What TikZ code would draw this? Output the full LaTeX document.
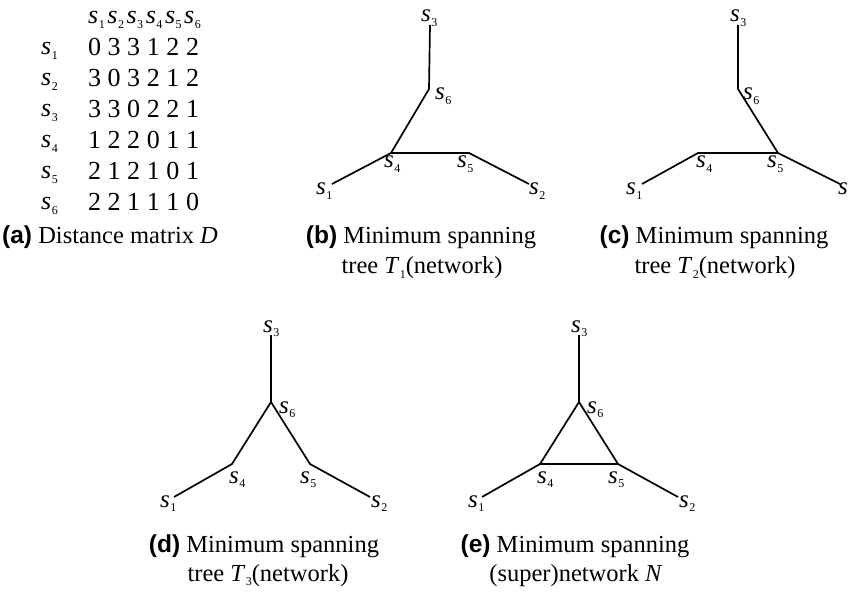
\documentclass[tikz,border=0pt]{standalone}
\usepackage{fontspec}
\setmainfont{Liberation Serif}
\newfontfamily\labfont{Liberation Sans}
\newcommand{\sv}[1]{\textit{s}\kern0.5pt\raisebox{-4.5pt}{\fontsize{12}{12}\selectfont #1}}
\newcommand{\tsub}[1]{\kern0.3pt\raisebox{-4.5pt}{\fontsize{12}{12}\selectfont #1}}
\newcommand{\plab}[1]{{\labfont\bfseries (#1)}}
\begin{document}
\begin{tikzpicture}[x=1pt,y=-1pt,
  edge/.style={line width=1.7pt, line join=round},
  lab/.style={inner sep=0pt, anchor=base west, font=\fontsize{25}{25}\selectfont},
  capt/.style={inner sep=0pt, anchor=base, font=\fontsize{24.5}{30}\selectfont},
  mat/.style={inner sep=0pt, anchor=base, font=\fontsize{26}{26}\selectfont},
  math/.style={inner sep=0pt, anchor=base west, font=\fontsize{26}{26}\selectfont}]
\useasboundingbox (0,0) rectangle (848,593);

% ---------- (a) distance matrix ----------
\foreach \k in {1,...,6} {
  \node[math] (h\k) at ({88+19.2*(\k-1)}, 24) {\sv{\k}};
  \node[math] (r\k) at (41, {55+31*(\k-1)}) {\sv{\k}};
}
\foreach \r/\va/\vb/\vc/\vd/\ve/\vf in {1/0/3/3/1/2/2, 2/3/0/3/2/1/2, 3/3/3/0/2/2/1,
    4/1/2/2/0/1/1, 5/2/1/2/1/0/1, 6/2/2/1/1/1/0} {
  \foreach \v [count=\c] in {\va,\vb,\vc,\vd,\ve,\vf} {
    \node[mat] (m\r\c) at ({94.5+19.6*(\c-1)}, {56+31*(\r-1)}) {\v};
  }
}
\node[capt, anchor=base west] (capa) at (2,244) {\plab{a} Distance matrix \textit{D}};

% ---------- (b) ----------
\coordinate (b3) at (430,25);
\coordinate (b6) at (429,89);
\coordinate (b4) at (391,153);
\coordinate (b5) at (469,153);
\coordinate (b1) at (332,184);
\coordinate (b2) at (529,184);
\draw[edge] (b3) -- (b6) -- (b4) -- (b1);
\draw[edge] (b4) -- (b5) -- (b2);
\node[lab] (lb3) at (421,22) {\sv{3}};
\node[lab] (lb6) at (435,100) {\sv{6}};
\node[lab] (lb4) at (384,168) {\sv{4}};
\node[lab] (lb5) at (457,168) {\sv{5}};
\node[lab] (lb1) at (316,195) {\sv{1}};
\node[lab] (lb2) at (529,195) {\sv{2}};
\node[capt] (capb1) at (421,244) {\plab{b} Minimum spanning};
\node[capt] (capb2) at (422,274) {tree \textit{T}\tsub{1}(network)};

% ---------- (c) ----------
\coordinate (c3) at (738,25);
\coordinate (c6) at (738,89);
\coordinate (c5) at (778,153);
\coordinate (c4) at (698,153);
\coordinate (c1) at (642,184);
\coordinate (c2) at (840,184);
\draw[edge] (c3) -- (c6) -- (c5) -- (c2);
\draw[edge] (c5) -- (c4) -- (c1);
\node[lab] (lc3) at (730,22) {\sv{3}};
\node[lab] (lc6) at (743,100) {\sv{6}};
\node[lab] (lc4) at (696,168) {\sv{4}};
\node[lab] (lc5) at (767,168) {\sv{5}};
\node[lab] (lc1) at (626,195) {\sv{1}};
\node[lab] (lc2) at (838,195) {\sv{2}};
\node[capt] (capc1) at (714,244) {\plab{c} Minimum spanning};
\node[capt] (capc2) at (715,274) {tree \textit{T}\tsub{2}(network)};

% ---------- (d) ----------
\coordinate (d3) at (271,335);
\coordinate (d6) at (271,402);
\coordinate (d4) at (232,464);
\coordinate (d5) at (310,464);
\coordinate (d1) at (174,497);
\coordinate (d2) at (370,497);
\draw[edge] (d3) -- (d6);
\draw[edge] (d1) -- (d4) -- (d6) -- (d5) -- (d2);
\node[lab] (ld3) at (263,332) {\sv{3}};
\node[lab] (ld6) at (279,413) {\sv{6}};
\node[lab] (ld4) at (229,483) {\sv{4}};
\node[lab] (ld5) at (300,483) {\sv{5}};
\node[lab] (ld1) at (160,507) {\sv{1}};
\node[lab] (ld2) at (371,507) {\sv{2}};
\node[capt] (capd1) at (264,552) {\plab{d} Minimum spanning};
\node[capt] (capd2) at (268,581) {tree \textit{T}\tsub{3}(network)};

% ---------- (e) ----------
\coordinate (e3) at (579,335);
\coordinate (e6) at (579,402);
\coordinate (e4) at (540,464);
\coordinate (e5) at (618,464);
\coordinate (e1) at (482,497);
\coordinate (e2) at (678,497);
\draw[edge] (e3) -- (e6);
\draw[edge] (e1) -- (e4) -- (e6) -- (e5) -- (e2);
\draw[edge] (e4) -- (e5);
\node[lab] (le3) at (571,332) {\sv{3}};
\node[lab] (le6) at (587,413) {\sv{6}};
\node[lab] (le4) at (537,483) {\sv{4}};
\node[lab] (le5) at (608,483) {\sv{5}};
\node[lab] (le1) at (468,507) {\sv{1}};
\node[lab] (le2) at (679,507) {\sv{2}};
\node[capt] (cape1) at (575,552) {\plab{e} Minimum spanning};
\node[capt] (cape2) at (576,581) {(super)network \textit{N}};
\end{tikzpicture}
\end{document}
